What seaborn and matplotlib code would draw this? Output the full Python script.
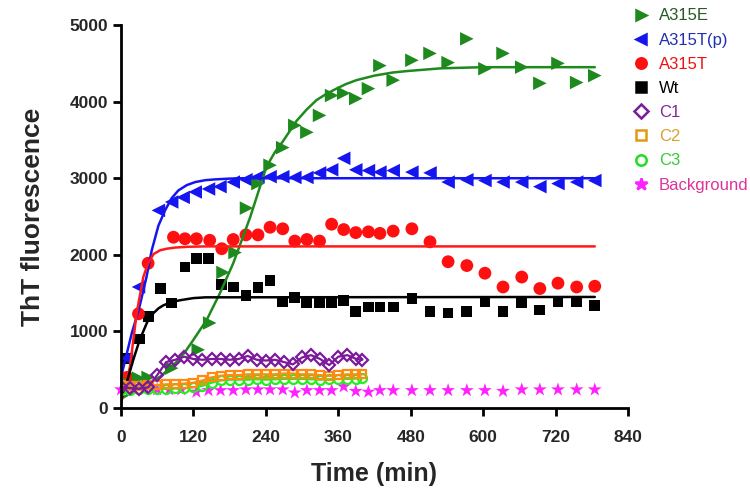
import numpy as np
import pandas as pd
import seaborn as sns
import matplotlib.pyplot as plt
from matplotlib.lines import Line2D

# ── Data ───────────────────────────────────────────────────────────────────────
# measured points (time in min, ThT fluorescence)
a315e_t = [10, 29, 45, 84, 128, 147, 169, 189, 208, 227, 247, 268, 288, 308, 329,
           349, 369, 389, 410, 429, 451, 482, 512, 542, 573, 603, 633, 664, 694,
           724, 755, 785]
a315e_y = [330, 390, 400, 520, 760, 1110, 1770, 2030, 2610, 2930, 3170, 3400, 3690,
           3600, 3820, 4080, 4110, 4040, 4170, 4470, 4280, 4540, 4630, 4510, 4820,
           4430, 4630, 4450, 4240, 4500, 4250, 4340]

a315tp_t = [9, 29, 62, 84, 103, 123, 145, 164, 186, 207, 227, 247, 268, 288, 308,
            329, 349, 369, 389, 410, 429, 451, 482, 512, 542, 573, 603, 633, 664,
            694, 724, 755, 785]
a315tp_y = [650, 1580, 2580, 2690, 2750, 2820, 2860, 2890, 2950, 2980, 3020, 3020,
            3020, 3010, 3010, 3070, 3110, 3260, 3110, 3100, 3080, 3100, 3080, 3070,
            2950, 2980, 2970, 2950, 2950, 2890, 2930, 2950, 2970]

a315t_t = [10, 29, 45, 87, 106, 125, 147, 167, 186, 207, 227, 247, 268, 288, 308,
           329, 349, 369, 389, 410, 429, 451, 482, 512, 542, 573, 603, 633, 664,
           694, 724, 755, 785]
a315t_y = [400, 1230, 1890, 2230, 2210, 2210, 2190, 2080, 2200, 2260, 2260, 2360,
           2340, 2180, 2200, 2180, 2400, 2330, 2290, 2300, 2280, 2310, 2340, 2170,
           1910, 1860, 1760, 1580, 1710, 1560, 1630, 1580, 1590]

wt_t = [10, 31, 45, 65, 84, 106, 125, 145, 167, 186, 207, 227, 247, 268, 288, 308,
        329, 349, 369, 389, 410, 429, 451, 482, 512, 542, 573, 603, 633, 664, 694,
        724, 755, 785]
wt_y = [650, 900, 1190, 1560, 1370, 1840, 1950, 1950, 1610, 1580, 1470, 1570, 1660,
        1390, 1440, 1370, 1370, 1370, 1400, 1260, 1320, 1320, 1320, 1430, 1260,
        1240, 1260, 1390, 1260, 1370, 1280, 1390, 1390, 1340]

ctrl_t = [0, 15, 30, 45, 60, 75, 90, 105, 120, 135, 150, 165, 180, 195, 210, 225,
          240, 255, 270, 285, 300, 315, 330, 345, 360, 375, 390, 400]
c1_y = [270, 260, 250, 270, 430, 600, 630, 670, 640, 630, 640, 640, 630, 640, 680,
        630, 620, 630, 600, 570, 660, 690, 640, 560, 670, 690, 640, 630]
c2_y = [300, 290, 290, 300, 300, 310, 310, 320, 330, 360, 400, 420, 430, 430, 440,
        440, 440, 440, 450, 450, 440, 440, 430, 420, 430, 440, 440, 440]
c3_y = [230, 240, 250, 250, 250, 250, 255, 260, 270, 290, 330, 360, 370, 370, 370,
        375, 370, 375, 380, 380, 380, 375, 370, 375, 380, 380, 385, 390]

bg_t = [0, 20, 40, 60, 80, 100, 125, 145, 165, 186, 207, 227, 247, 268, 288, 308,
        329, 349, 369, 389, 410, 429, 451, 482, 512, 542, 573, 603, 633, 664, 694,
        724, 755, 785]
bg_y = [240, 250, 250, 240, 240, 240, 210, 230, 230, 230, 240, 240, 240, 240, 200,
        230, 230, 230, 280, 220, 210, 230, 230, 230, 230, 230, 230, 230, 220, 240,
        240, 240, 240, 240]

# fitted curves
fit_e_t = [0, 20, 37, 50, 65, 78, 92, 106, 120, 142, 164, 186, 214, 241, 255, 269,
           291, 308, 324, 340, 357, 373, 390, 420, 450, 475, 530, 600, 700, 785]
fit_e_y = [120, 210, 280, 340, 410, 500, 600, 730, 890, 1150, 1500, 1890, 2490,
           3150, 3340, 3490, 3750, 3900, 4020, 4100, 4170, 4230, 4280, 4340, 4380,
           4400, 4435, 4450, 4450, 4450]
fit_tp_t = [0, 18, 30, 42, 51, 62, 73, 84, 95, 109, 123, 140, 156, 180, 200, 300, 785]
fit_tp_y = [400, 980, 1300, 1700, 2060, 2380, 2580, 2740, 2840, 2910, 2950, 2975,
            2985, 2995, 3000, 3000, 3000]
fit_t_t = [0, 15, 26, 37, 45, 54, 65, 76, 90, 110, 140, 785]
fit_t_y = [60, 540, 1240, 1710, 1890, 2010, 2060, 2080, 2095, 2105, 2110, 2110]
fit_wt_t = [0, 9, 20, 31, 45, 54, 62, 70, 78, 90, 100, 120, 140, 785]
fit_wt_y = [100, 320, 620, 890, 1150, 1240, 1300, 1340, 1365, 1395, 1410, 1435,
            1445, 1450]

x_ticks = [0, 120, 240, 360, 480, 600, 720, 840]
y_ticks = [0, 1000, 2000, 3000, 4000, 5000]

# ── Style ─────────────────────────────────────────────────────────────────────
sns.set_style("ticks")
plt.rcParams['font.family'] = ['Liberation Sans', 'DejaVu Sans']

fig = plt.figure(figsize=(7.5, 4.98), dpi=100)
ax = fig.add_axes([0.1613, 0.1807, 0.676, 0.769])

# fit lines
for t, y, c in [(fit_e_t, fit_e_y, '#1E8A1E'), (fit_tp_t, fit_tp_y, '#1515F0'),
                (fit_t_t, fit_t_y, '#FF1A1A'), (fit_wt_t, fit_wt_y, 'black')]:
    sns.lineplot(x=t, y=y, ax=ax, color=c, lw=1.8, sort=False)

# connected control series
for y, c, m, ms in [(c3_y, '#22EE22', 'o', 6.5), (c2_y, '#FF8A10', 's', 6),
                    (c1_y, '#7B1A9A', 'D', 6.5)]:
    sns.lineplot(x=ctrl_t, y=y, ax=ax, color=c, lw=1.6, marker=m, ms=ms,
                 mfc='none', mec=c, mew=1.6, sort=False)

# scatter series
sc = dict(ax=ax, edgecolor='none', clip_on=False, legend=False)
sns.scatterplot(x=bg_t, y=bg_y, color='#FF22FF', marker='*', s=110, **sc)
sns.scatterplot(x=wt_t, y=wt_y, color='black', marker='s', s=60, **sc)
sns.scatterplot(x=a315t_t, y=a315t_y, color='#FF1010', marker='o', s=85, **sc)
sns.scatterplot(x=a315tp_t, y=a315tp_y, color='#1515F0', marker='<', s=95, **sc)
sns.scatterplot(x=a315e_t, y=a315e_y, color='#1E8A1E', marker='>', s=95, **sc)

ax.set_xlim(0, 840)
ax.set_ylim(0, 5000)
ax.set_xticks(x_ticks)
ax.set_yticks(y_ticks)
sns.despine(ax=ax)
for s in ['left', 'bottom']:
    ax.spines[s].set_linewidth(2)
    ax.spines[s].set_color('black')
ax.tick_params(axis='both', length=6, width=2, color='black', labelsize=12.5)
ax.tick_params(axis='x', pad=10)
ax.tick_params(axis='y', pad=3)
for lab in ax.get_xticklabels() + ax.get_yticklabels():
    lab.set_fontweight('bold')

ax.set_xlabel("Time (min)", fontsize=18, fontweight='bold')
ax.set_ylabel("ThT fluorescence", fontsize=19, fontweight='bold')
ax.xaxis.set_label_coords(0.5, -0.14)
ax.yaxis.set_label_coords(-0.15, 0.5)

# legend (markers only, coloured labels)
leg_items = [('A315E', '>', '#1E8A1E', '#1E8A1E', '#245A24'),
             ('A315T(p)', '<', '#1515F0', '#1515F0', '#2030B0'),
             ('A315T', 'o', '#FF1010', '#FF1010', '#F01010'),
             ('Wt', 's', 'black', 'black', 'black'),
             ('C1', 'D', 'none', '#7B1A9A', '#7B2A9B'),
             ('C2', 's', 'none', '#E09A10', '#D9A030'),
             ('C3', 'o', 'none', '#22DD22', '#33CC33'),
             ('Background', '*', '#FF22FF', '#FF22FF', '#DD3399')]
handles = [Line2D([], [], ls='none', marker=m, ms=9 if m == '*' else 7.5,
                  mfc=fc, mec=ec, mew=1.8) for _, m, fc, ec, _ in leg_items]
leg = fig.legend(handles, [it[0] for it in leg_items], loc='upper left',
                 bbox_to_anchor=(0.843, 0.983), frameon=False, fontsize=12,
                 handlelength=1.0, handletextpad=0.6, labelspacing=0.55,
                 borderaxespad=0, borderpad=0)
for txt, it in zip(leg.get_texts(), leg_items):
    txt.set_color(it[4])

fig.savefig("out.png", dpi=100)
